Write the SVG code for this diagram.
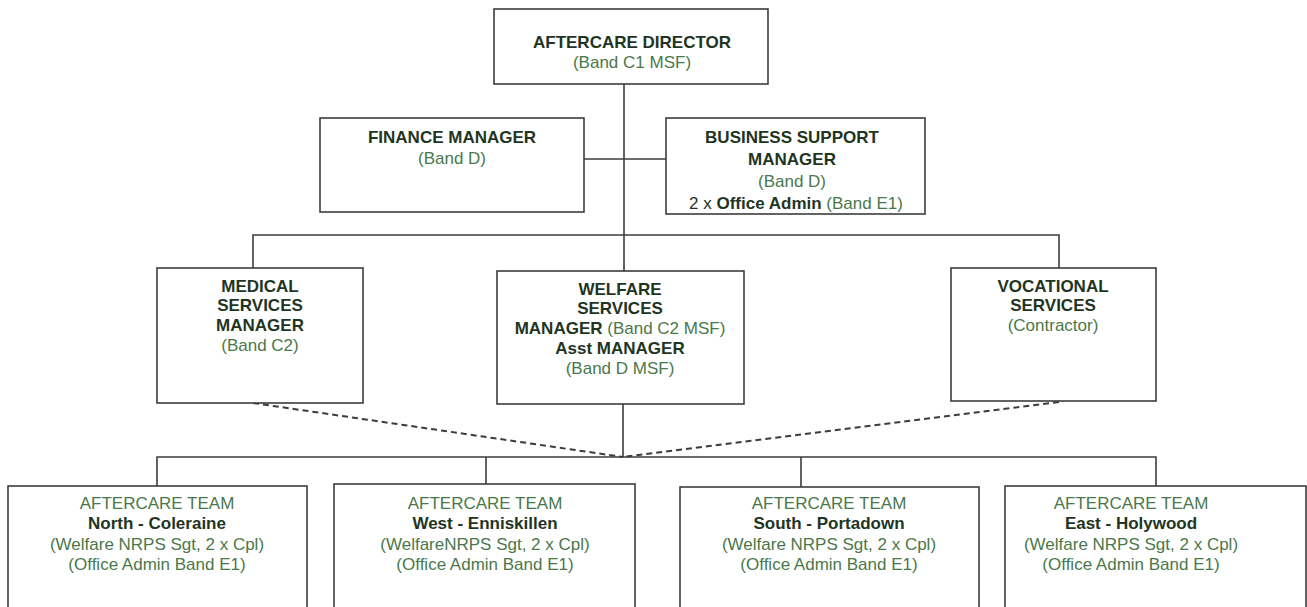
<svg xmlns="http://www.w3.org/2000/svg" width="1307" height="607" viewBox="0 0 1307 607">
<style>
.box{fill:#fff;stroke:#3c3c3c;stroke-width:1.6}
.ln{fill:none;stroke:#3c3c3c;stroke-width:1.6}
.dash{fill:none;stroke:#3c3c3c;stroke-width:2;stroke-dasharray:6 4}
text{font-family:"Liberation Sans",Arial,sans-serif;font-size:17px;text-anchor:middle}
.b{font-weight:bold;fill:#1f351f}
.g{fill:#4a784a}
</style>
<rect width="1307" height="607" fill="#fff"/>
<g id="connectors">
<path class="ln" d="M624,84 V271"/>
<path class="ln" d="M584,159 H666"/>
<path class="ln" d="M253,268 V235 H1059 V268"/>
<path class="ln" d="M623,404 V457"/>
<path class="ln" d="M157,486 V457 H1156 V486"/>
<path class="ln" d="M486,457 V484"/>
<path class="ln" d="M801,457 V487"/>
<path class="dash" d="M253,403 L623,457"/>
<path class="dash" d="M1059,402 L623,457"/>
</g>
<g id="director">
<rect class="box" x="494" y="9" width="274" height="75"/>
<text class="b" x="632" y="48">AFTERCARE DIRECTOR</text>
<text class="g" x="632" y="68">(Band C1 MSF)</text>
</g>
<g id="finance">
<rect class="box" x="320" y="118" width="264" height="94"/>
<text class="b" x="452" y="143">FINANCE MANAGER</text>
<text class="g" x="452" y="164">(Band D)</text>
</g>
<g id="business">
<rect class="box" x="666" y="118" width="259" height="96"/>
<text class="b" x="792" y="143">BUSINESS SUPPORT</text>
<text class="b" x="792" y="165">MANAGER</text>
<text class="g" x="792" y="187">(Band D)</text>
<text x="796" y="209"><tspan class="g" style="fill:#1f351f">2 x </tspan><tspan class="b">Office Admin</tspan><tspan class="g"> (Band E1)</tspan></text>
</g>
<g id="medical">
<rect class="box" x="157" y="268" width="206" height="135"/>
<text class="b" x="260" y="292">MEDICAL</text>
<text class="b" x="260" y="311">SERVICES</text>
<text class="b" x="260" y="331">MANAGER</text>
<text class="g" x="260" y="351">(Band C2)</text>
</g>
<g id="welfare">
<rect class="box" x="497" y="271" width="247" height="133"/>
<text class="b" x="620" y="295">WELFARE</text>
<text class="b" x="620" y="314">SERVICES</text>
<text x="620" y="334"><tspan class="b">MANAGER</tspan><tspan class="g"> (Band C2 MSF)</tspan></text>
<text class="b" x="620" y="354">Asst MANAGER</text>
<text class="g" x="620" y="374">(Band D MSF)</text>
</g>
<g id="vocational">
<rect class="box" x="951" y="268" width="205" height="133"/>
<text class="b" x="1053" y="292">VOCATIONAL</text>
<text class="b" x="1053" y="311">SERVICES</text>
<text class="g" x="1053" y="331">(Contractor)</text>
</g>
<g id="team-north">
<rect class="box" x="8" y="486" width="299" height="140"/>
<text class="g" x="157" y="509">AFTERCARE TEAM</text>
<text class="b" x="157" y="529">North - Coleraine</text>
<text class="g" x="157" y="550">(Welfare NRPS Sgt, 2 x Cpl)</text>
<text class="g" x="157" y="570">(Office Admin Band E1)</text>
</g>
<g id="team-west">
<rect class="box" x="334" y="484" width="301" height="140"/>
<text class="g" x="485" y="509">AFTERCARE TEAM</text>
<text class="b" x="485" y="529">West - Enniskillen</text>
<text class="g" x="485" y="550">(WelfareNRPS Sgt, 2 x Cpl)</text>
<text class="g" x="485" y="570">(Office Admin Band E1)</text>
</g>
<g id="team-south">
<rect class="box" x="680" y="487" width="299" height="140"/>
<text class="g" x="829" y="509">AFTERCARE TEAM</text>
<text class="b" x="829" y="529">South - Portadown</text>
<text class="g" x="829" y="550">(Welfare NRPS Sgt, 2 x Cpl)</text>
<text class="g" x="829" y="570">(Office Admin Band E1)</text>
</g>
<g id="team-east">
<rect class="box" x="1005" y="486" width="301" height="140"/>
<text class="g" x="1131" y="509">AFTERCARE TEAM</text>
<text class="b" x="1131" y="529">East - Holywood</text>
<text class="g" x="1131" y="550">(Welfare NRPS Sgt, 2 x Cpl)</text>
<text class="g" x="1131" y="570">(Office Admin Band E1)</text>
</g>
</svg>
